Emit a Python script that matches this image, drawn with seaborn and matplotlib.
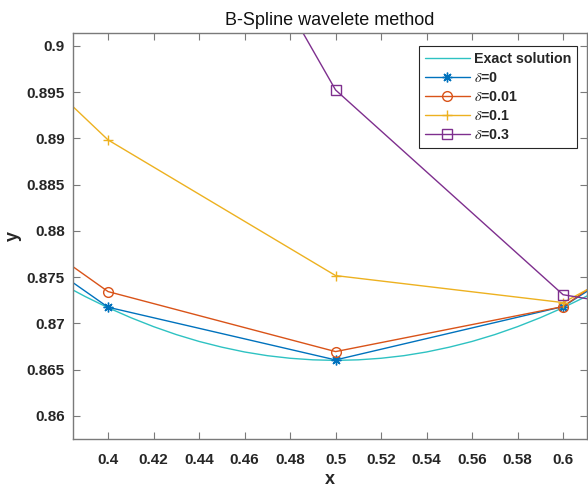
import numpy as np
import pandas as pd
import matplotlib
matplotlib.use("Agg")
import matplotlib.pyplot as plt
import seaborn as sns

# Exact solution sampled on a fine grid
x_exact = [0.38, 0.39, 0.40, 0.41, 0.42, 0.43, 0.44, 0.45, 0.46, 0.47, 0.48, 0.49,
           0.50, 0.51, 0.52, 0.53, 0.54, 0.55, 0.56, 0.57, 0.58, 0.59, 0.60, 0.61, 0.62]
y_exact = [0.87421, 0.87290, 0.87170, 0.87062, 0.86965, 0.86879, 0.86805, 0.86743,
           0.86691, 0.86651, 0.86623, 0.86606, 0.86600, 0.86606, 0.86623, 0.86651,
           0.86691, 0.86743, 0.86805, 0.86879, 0.86965, 0.87062, 0.87170, 0.87290, 0.87421]

# Wavelet approximations at the collocation nodes for each noise level
x_nodes = [0.3, 0.4, 0.5, 0.6, 0.7]
y_d0 = [0.8890, 0.87175, 0.86605, 0.87182, 0.8875]
y_d001 = [0.8909, 0.87344, 0.86695, 0.87182, 0.8890]
y_d01 = [0.9132, 0.88984, 0.87517, 0.87225, 0.8855]
y_d03 = [0.9800, 0.9383, 0.89524, 0.87310, 0.8690]

labels = ["Exact solution", r"$\delta$=0", r"$\delta$=0.01", r"$\delta$=0.1", r"$\delta$=0.3"]

sns.set_style("white")
plt.rcParams["font.family"] = ["Liberation Sans", "DejaVu Sans"]
plt.rcParams["mathtext.fontset"] = "stix"

fig = plt.figure(figsize=(5.88, 4.87), dpi=100)
ax = fig.add_axes([73 / 588, 1 - 439 / 487, (587 - 73) / 588, (439 - 33) / 487])

sns.lineplot(x=x_exact, y=y_exact, ax=ax, color="#2EC2C2", lw=1.0,
             sort=False, label=labels[0])

series = [
    (y_d0, "#0072BD", (8, 2, 0)),
    (y_d001, "#D95319", "o"),
    (y_d01, "#EDB120", "+"),
    (y_d03, "#7E2F8E", "s"),
]
for (vals, col, mk), lab in zip(series, labels[1:]):
    sns.lineplot(x=x_nodes, y=vals, ax=ax, color=col, lw=1.0, sort=False,
                 marker=mk, markersize=7, markerfacecolor="none",
                 markeredgecolor=col, markeredgewidth=1.0, label=lab)

ax.set_xlim(0.3846, 0.6105)
ax.set_ylim(0.8575, 0.9014)
xt = np.round(np.arange(0.40, 0.6001, 0.02), 2)
yt = np.round(np.arange(0.86, 0.9001, 0.005), 3)
ax.set_xticks(xt)
ax.set_xticklabels([f"{v:g}" for v in xt])
ax.set_yticks(yt)
ax.set_yticklabels([f"{v:g}" for v in yt])

ax.tick_params(axis="both", direction="in", length=5, width=0.8, color="#7a7a7a",
               labelsize=11, labelcolor="#262626", top=True, right=True,
               bottom=True, left=True, pad=6)
ax.tick_params(axis="x", pad=10)
for lab in ax.get_xticklabels() + ax.get_yticklabels():
    lab.set_fontweight("bold")
for sp in ax.spines.values():
    sp.set_visible(True)
    sp.set_color("#7a7a7a")
    sp.set_linewidth(1.0)

ax.set_xlabel("x", fontsize=13, fontweight="bold", color="#262626", labelpad=3)
ax.set_ylabel("y", fontsize=13, fontweight="bold", color="#262626", labelpad=3)
ax.set_title("B-Spline wavelete method", fontsize=13, color="#111111", pad=6)

leg = ax.legend(loc="upper right", bbox_to_anchor=(577 / 588, 1 - 46 / 487),
                bbox_transform=fig.transFigure, frameon=True, fancybox=False,
                framealpha=1, edgecolor="#262626",
                prop={"weight": "bold", "size": 10.3},
                handlelength=3.2, handletextpad=0.25, labelspacing=0.36,
                borderpad=0.4, borderaxespad=0)
leg.get_frame().set_linewidth(0.8)

fig.savefig("out.png", dpi=100)
